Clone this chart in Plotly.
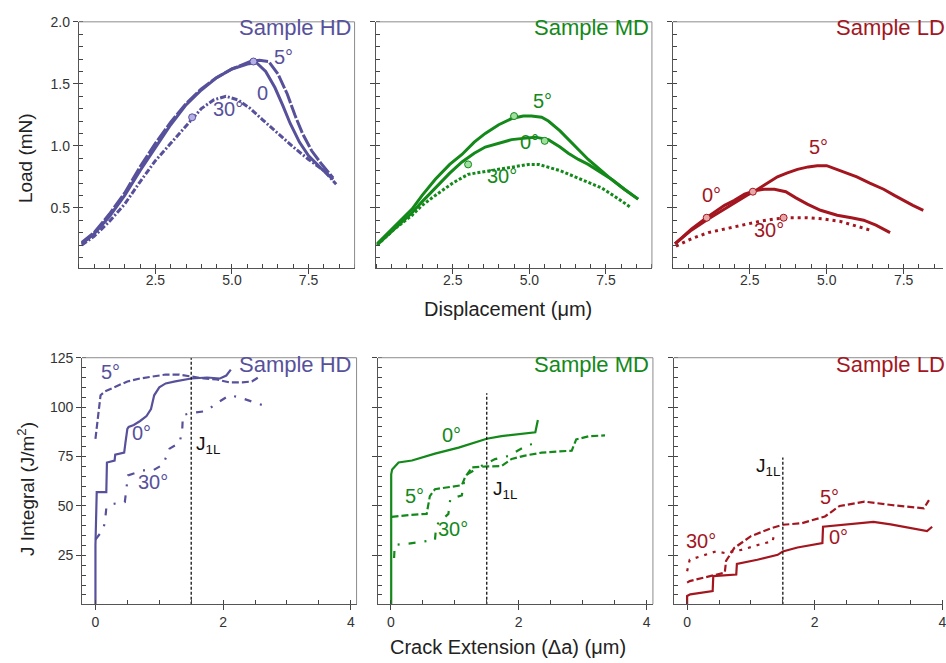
import plotly.graph_objects as go

# ---------------- DATA ----------------
# Load-displacement (top row)
hd0_x = [0.1, 0.5, 1.0, 1.5, 2.0, 2.5, 3.0, 3.5, 4.0, 4.5, 5.0, 5.5, 5.8, 6.1, 6.4, 6.65, 6.9, 7.2, 7.5, 7.9, 8.3]
hd0_y = [0.21, 0.29, 0.43, 0.60, 0.80, 0.99, 1.17, 1.33, 1.45, 1.55, 1.62, 1.66, 1.67, 1.60, 1.47, 1.33, 1.18, 1.03, 0.92, 0.82, 0.73]
hd5_x = [0.1, 0.5, 1.0, 1.5, 2.0, 2.5, 3.0, 3.5, 4.0, 4.5, 5.0, 5.6, 5.9, 6.2, 6.5, 6.8, 7.05, 7.3, 7.6, 7.9, 8.3]
hd5_y = [0.22, 0.30, 0.45, 0.62, 0.83, 1.02, 1.19, 1.34, 1.46, 1.55, 1.62, 1.68, 1.69, 1.68, 1.58, 1.42, 1.25, 1.10, 0.96, 0.86, 0.74]
hd30_x = [0.1, 0.5, 1.0, 1.5, 2.0, 2.5, 3.0, 3.5, 4.0, 4.4, 4.8, 5.2, 5.6, 6.0, 6.5, 7.0, 7.5, 8.0, 8.4]
hd30_y = [0.20, 0.27, 0.39, 0.53, 0.71, 0.88, 1.02, 1.16, 1.30, 1.37, 1.40, 1.37, 1.30, 1.21, 1.10, 0.99, 0.89, 0.80, 0.69]

md0_x = [0.03, 0.6, 1.17, 1.5, 1.93, 2.4, 2.8, 3.2, 3.56, 4.0, 4.42, 4.8, 5.19, 5.62, 6.0, 6.27, 6.6, 6.92, 7.3, 7.68, 8.1, 8.55]
md0_y = [0.20, 0.33, 0.46, 0.55, 0.66, 0.78, 0.87, 0.94, 0.99, 1.02, 1.05, 1.06, 1.07, 1.05, 0.99, 0.94, 0.89, 0.85, 0.79, 0.73, 0.65, 0.57]
md5_x = [0.03, 0.6, 1.17, 1.5, 1.93, 2.4, 2.8, 3.2, 3.56, 4.0, 4.42, 4.8, 5.07, 5.4, 5.62, 6.0, 6.27, 6.6, 6.92, 7.3, 7.68, 8.1, 8.55]
md5_y = [0.21, 0.35, 0.49, 0.60, 0.73, 0.85, 0.93, 1.03, 1.10, 1.17, 1.22, 1.24, 1.24, 1.23, 1.20, 1.12, 1.05, 0.97, 0.89, 0.81, 0.73, 0.65, 0.57]
md30_x = [0.03, 0.6, 1.17, 1.5, 1.93, 2.5, 3.0, 3.5, 4.1, 4.5, 4.97, 5.3, 5.62, 6.0, 6.49, 6.9, 7.36, 7.8, 8.33]
md30_y = [0.20, 0.33, 0.44, 0.52, 0.60, 0.70, 0.77, 0.79, 0.81, 0.83, 0.85, 0.85, 0.83, 0.80, 0.75, 0.71, 0.66, 0.59, 0.50]

ld5_x = [0.07, 0.6, 1.15, 1.6, 2.0, 2.4, 2.76, 3.1, 3.4, 3.7, 4.05, 4.4, 4.69, 5.0, 5.34, 5.7, 5.98, 6.4, 6.85, 7.2, 7.49, 7.8, 8.14]
ld5_y = [0.21, 0.32, 0.41, 0.48, 0.54, 0.60, 0.65, 0.70, 0.75, 0.78, 0.81, 0.83, 0.84, 0.84, 0.81, 0.78, 0.75, 0.70, 0.65, 0.60, 0.56, 0.52, 0.48]
ld0_x = [0.07, 0.61, 1.15, 1.68, 2.0, 2.33, 2.7, 2.97, 3.3, 3.67, 4.0, 4.37, 4.8, 5.34, 5.8, 6.2, 6.6, 7.06]
ld0_y = [0.21, 0.33, 0.43, 0.52, 0.56, 0.61, 0.64, 0.65, 0.65, 0.63, 0.58, 0.53, 0.48, 0.44, 0.42, 0.40, 0.36, 0.30]
ld30_x = [0.1, 0.6, 1.15, 1.7, 2.22, 2.8, 3.3, 3.8, 4.37, 4.9, 5.45, 5.9, 6.41]
ld30_y = [0.19, 0.25, 0.30, 0.33, 0.36, 0.39, 0.41, 0.42, 0.42, 0.41, 0.39, 0.36, 0.32]

# highlighted points (open circles) on the load curves
hd_pt_x = [5.7, 3.7]
hd_pt_y = [1.68, 1.23]
md_pt_x = [4.5, 5.5, 3.0]
md_pt_y = [1.24, 1.04, 0.85]
ld_pt_x = [1.1, 2.6, 3.6]
ld_pt_y = [0.42, 0.63, 0.42]

# J-integral vs crack extension (bottom row)
jhd0_x = [0.00, 0.00, 0.02, 0.17, 0.18, 0.30, 0.31, 0.45, 0.47, 0.50, 0.52, 0.60, 0.70, 0.80, 0.87, 0.92, 1.00, 1.10, 1.25, 1.50, 1.75, 1.95, 2.05, 2.12]
jhd0_y = [0.0, 30.0, 57.0, 57.0, 72.0, 73.0, 76.0, 77.0, 82.0, 89.0, 90.0, 91.0, 93.0, 95.5, 99.0, 106.0, 110.0, 112.0, 113.0, 114.5, 115.0, 114.5, 116.0, 119.0]
jhd5_x = [0.0, 0.02, 0.05, 0.08, 0.15, 0.3, 0.5, 0.7, 0.9, 1.1, 1.3, 1.5, 1.7, 1.9, 2.1, 2.3, 2.45, 2.55]
jhd5_y = [84.0, 90.0, 98.0, 106.0, 108.0, 110.0, 113.0, 114.5, 115.5, 116.5, 116.5, 115.5, 114.5, 114.0, 112.5, 112.5, 113.0, 115.0]
jhd30_x = [0.0, 0.12, 0.15, 0.17, 0.27, 0.46, 0.51, 0.74, 0.90, 1.06, 1.16, 1.32, 1.36, 1.37, 1.50, 1.73, 1.9, 2.1, 2.25, 2.62]
jhd30_y = [33.0, 38.0, 42.0, 49.0, 51.0, 52.0, 65.5, 68.0, 68.0, 71.0, 79.0, 82.0, 89.0, 96.0, 97.0, 98.0, 102.0, 106.0, 105.0, 101.0]

jmd0_x = [0.005, 0.005, 0.02, 0.12, 0.33, 0.69, 1.06, 1.30, 1.50, 1.73, 2.05, 2.26, 2.30]
jmd0_y = [0.0, 66.0, 68.5, 72.0, 73.0, 76.5, 79.5, 82.0, 84.0, 85.3, 86.7, 87.3, 93.5]
jmd5_x = [0.01, 0.3, 0.56, 0.61, 0.69, 1.11, 1.16, 1.21, 1.27, 1.50, 1.73, 1.89, 2.1, 2.36, 2.83, 2.90, 3.10, 3.35]
jmd5_y = [44.5, 45.5, 46.0, 55.0, 58.5, 60.5, 64.5, 67.0, 69.5, 70.0, 70.2, 73.8, 75.5, 77.0, 78.0, 83.7, 85.3, 85.7]
jmd30_x = [0.05, 0.06, 0.28, 0.69, 0.71, 0.90, 0.93, 1.11, 1.16, 1.40, 1.63, 1.84, 2.15, 2.33]
jmd30_y = [23.7, 30.3, 31.0, 32.8, 40.3, 46.0, 53.7, 55.3, 65.3, 70.0, 73.7, 75.3, 81.0, 81.7]

jld0_x = [0.0, 0.0, 0.05, 0.40, 0.41, 0.77, 0.78, 1.10, 1.42, 1.50, 1.73, 2.12, 2.13, 2.46, 2.92, 3.19, 3.50, 3.76, 3.84]
jld0_y = [0.0, 4.5, 5.3, 7.0, 14.5, 15.3, 20.7, 22.8, 25.3, 27.0, 29.0, 31.2, 39.5, 40.7, 42.0, 40.7, 38.7, 37.3, 39.5]
jld5_x = [0.0, 0.04, 0.59, 0.61, 0.74, 1.00, 1.32, 1.50, 1.80, 2.16, 2.39, 2.78, 3.20, 3.71, 3.79]
jld5_y = [11.2, 12.0, 16.3, 22.2, 28.8, 34.7, 38.8, 40.5, 41.3, 44.7, 50.0, 52.2, 50.5, 48.8, 53.0]
jld30_x = [0.0, 0.04, 0.45, 0.59, 0.85, 1.21, 1.34, 1.37]
jld30_y = [17.0, 22.8, 27.0, 26.2, 27.8, 31.2, 32.0, 37.0]

j1l_x = 1.5
j1l_top = [125.0, 107.0, 74.5]

load_ticks = [0.5, 1.0, 1.5, 2.0]
disp_ticks = [2.5, 5.0, 7.5]
j_ticks = [25, 50, 75, 100, 125]
crack_ticks = [0, 2, 4]

samples = ["Sample HD", "Sample MD", "Sample LD"]

# ---------------- STYLE ----------------
FONT = "Liberation Sans, Arial, sans-serif"
C_HD = "#57519b"
C_MD = "#13891a"
C_LD = "#a3161f"
L_HD = "#b6b0e6"
L_MD = "#9fe09f"
L_LD = "#e8a8a8"
W, H = 946, 663

def px(v):
    return v / W

def py(v):
    return 1 - v / H

top_dom_y = [py(263), py(14)]
bot_dom_y = [py(603.5), py(354)]
top_dom_x = [[px(79), px(355.7)], [px(377.4), px(654)], [px(675), 1.0]]
bot_dom_x = [[px(82.3), px(357.7)], [px(379.3), px(655)], [px(676), 1.0]]
top_rng_x = [[0, 9], [0, 9], [0, 8.78]]
bot_rng_x = [[-0.21, 4.09], [-0.2, 4.1], [-0.208, 4.01]]

fig = go.Figure()

def add_line(x, y, ax, color, dash="solid", width=3):
    fig.add_trace(go.Scatter(x=x, y=y, mode="lines", xaxis="x" + ax, yaxis="y" + ax,
                             line=dict(color=color, width=width, dash=dash),
                             showlegend=False, hoverinfo="skip"))

def add_pts(x, y, ax, color, fill):
    fig.add_trace(go.Scatter(x=x, y=y, mode="markers", xaxis="x" + ax, yaxis="y" + ax,
                             marker=dict(size=7, color=fill, line=dict(color=color, width=1)),
                             showlegend=False, hoverinfo="skip"))

# top row
add_line(hd0_x, hd0_y, "", C_HD)
add_line(hd5_x, hd5_y, "", C_HD, dash="14px,2px")
add_line(hd30_x, hd30_y, "", C_HD, dash="6px,2px,2px,2px")
add_pts(hd_pt_x, hd_pt_y, "", C_HD, L_HD)

add_line(md0_x, md0_y, "2", C_MD)
add_line(md5_x, md5_y, "2", C_MD)
add_line(md30_x, md30_y, "2", C_MD, dash="3px,2px")
add_pts(md_pt_x, md_pt_y, "2", C_MD, L_MD)

add_line(ld5_x, ld5_y, "3", C_LD)
add_line(ld0_x, ld0_y, "3", C_LD)
add_line(ld30_x, ld30_y, "3", C_LD, dash="3px,4px")
add_pts(ld_pt_x, ld_pt_y, "3", C_LD, L_LD)

# bottom row
add_line(jhd0_x, jhd0_y, "4", C_HD, width=2.2)
add_line(jhd5_x, jhd5_y, "4", C_HD, dash="7px,3px", width=2.2)
add_line(jhd30_x, jhd30_y, "4", C_HD, dash="7px,9px,2px,9px", width=2.2)

add_line(jmd0_x, jmd0_y, "5", C_MD, width=2.2)
add_line(jmd5_x, jmd5_y, "5", C_MD, dash="7px,3px", width=2.2)
add_line(jmd30_x, jmd30_y, "5", C_MD, dash="7px,9px,2px,9px", width=2.2)

add_line(jld0_x, jld0_y, "6", C_LD, width=2.2)
add_line(jld5_x, jld5_y, "6", C_LD, dash="7px,3px", width=2.2)
add_line(jld30_x, jld30_y, "6", C_LD, dash="3px,6px", width=2.2)

# J1L lines
for i, ax in enumerate(["4", "5", "6"]):
    fig.add_trace(go.Scatter(x=[j1l_x, j1l_x], y=[0, j1l_top[i]], mode="lines",
                             xaxis="x" + ax, yaxis="y" + ax,
                             line=dict(color="#111111", width=1.3, dash="3px,2px"),
                             showlegend=False, hoverinfo="skip"))

axis_common = dict(showgrid=False, zeroline=False, showline=True, linecolor="#555555",
                   linewidth=1, ticks="outside", ticklen=5, tickcolor="#444444",
                   ticklabeloverflow="allow",
                   tickfont=dict(family=FONT, size=14, color="#333333"))

layout = dict(width=W, height=H, margin=dict(l=0, r=0, t=0, b=0),
              paper_bgcolor="white", plot_bgcolor="rgba(0,0,0,0)",
              font=dict(family=FONT), showlegend=False)

names = ["", "2", "3", "4", "5", "6"]
for i, n in enumerate(names):
    top = i < 3
    k = i % 3
    xa = dict(axis_common)
    ya = dict(axis_common)
    if top:
        xa.update(domain=top_dom_x[k], range=top_rng_x[k], tickvals=disp_ticks,
                  ticktext=["%.1f" % v for v in disp_ticks], ticklabelstandoff=-6,
                  minor=dict(dtick=0.5, tick0=0, ticks="inside", ticklen=4, tickcolor="#444444"))
        ya.update(domain=top_dom_y, range=[0.016, 2.0], tickvals=load_ticks,
                  ticktext=["%.1f" % v for v in load_ticks],
                  minor=dict(dtick=0.1, tick0=0, ticks="inside", ticklen=4, tickcolor="#444444"))
    else:
        xa.update(domain=bot_dom_x[k], range=bot_rng_x[k], tickvals=crack_ticks,
                  ticktext=[str(v) for v in crack_ticks],
                  minor=dict(dtick=0.5, tick0=0, ticks="inside", ticklen=4, tickcolor="#444444"))
        ya.update(domain=bot_dom_y, range=[0.3, 125], tickvals=j_ticks,
                  ticktext=[str(v) for v in j_ticks],
                  minor=dict(dtick=5, tick0=0, ticks="inside", ticklen=4, tickcolor="#444444"))
    ya["showticklabels"] = (k == 0)
    xa["anchor"] = "y" + n
    ya["anchor"] = "x" + n
    layout["xaxis" + n] = xa
    layout["yaxis" + n] = ya

fig.update_layout(**layout)

# frame (top and right borders)
shapes = []
for doms_x, dom_y in [(top_dom_x, top_dom_y), (bot_dom_x, bot_dom_y)]:
    for k in range(3):
        x0, x1 = doms_x[k]
        shapes.append(dict(type="line", xref="paper", yref="paper", x0=x0, x1=x1,
                           y0=dom_y[1], y1=dom_y[1], line=dict(color="#8c8c8c", width=1)))
        if k < 2:
            shapes.append(dict(type="line", xref="paper", yref="paper", x0=x1, x1=x1,
                               y0=dom_y[0], y1=dom_y[1], line=dict(color="#8c8c8c", width=1)))
fig.update_layout(shapes=shapes)

ann = []
def label(text, x, y, ax, color, size=20):
    ann.append(dict(text=text, x=x, y=y, xref="x" + ax, yref="y" + ax, showarrow=False,
                    xanchor="center", yanchor="middle",
                    font=dict(family=FONT, size=size, color=color)))

# top labels
label("5°", 6.68, 1.72, "", C_HD)
label("0", 5.98, 1.43, "", C_HD)
label("30°", 4.88, 1.30, "", C_HD)
label("5°", 5.42, 1.36, "2", C_MD)
label("0°", 5.0, 1.03, "2", C_MD)
label("30°", 4.12, 0.76, "2", C_MD)
label("5°", 4.72, 0.99, "3", C_LD)
label("0°", 1.24, 0.60, "3", C_LD)
label("30°", 3.14, 0.32, "3", C_LD)
# bottom labels
label("5°", 0.24, 118, "4", C_HD)
label("0°", 0.72, 87, "4", C_HD)
label("30°", 0.9, 62, "4", C_HD)
label("0°", 0.95, 86, "5", C_MD)
label("5°", 0.37, 55, "5", C_MD)
label("30°", 0.97, 38.5, "5", C_MD)
label("5°", 2.23, 54.5, "6", C_LD)
label("0°", 2.38, 34.5, "6", C_LD)
label("30°", 0.22, 32.5, "6", C_LD)
label("J<sub>1L</sub>", 1.76, 81, "4", "#111111", size=19)
label("J<sub>1L</sub>", 1.79, 58, "5", "#111111", size=19)
label("J<sub>1L</sub>", 1.27, 69.5, "6", "#111111", size=19)

# sample titles
sample_left = [238, 534, 837]
sample_col = [C_HD, C_MD, C_LD]
for k in range(3):
    for yy in [20, 361]:
        ann.append(dict(text=samples[k], x=px(sample_left[k]), y=py(yy), xref="paper", yref="paper",
                        showarrow=False, xanchor="left", yanchor="middle",
                        font=dict(family=FONT, size=22, color=sample_col[k])))

# axis titles
ann.append(dict(text="Load (mN)", x=px(25), y=py(152), xref="paper", yref="paper", showarrow=False,
                textangle=-90, xanchor="center", yanchor="middle",
                font=dict(family=FONT, size=19, color="#222222")))
ann.append(dict(text="J Integral (J/m<sup>2</sup>)", x=px(26), y=py(487), xref="paper", yref="paper",
                showarrow=False, textangle=-90, xanchor="center", yanchor="middle",
                font=dict(family=FONT, size=19, color="#222222")))
ann.append(dict(text="Displacement (μm)", x=px(510), y=py(305), xref="paper", yref="paper",
                showarrow=False, xanchor="center", yanchor="middle",
                font=dict(family=FONT, size=20, color="#222222")))
ann.append(dict(text="Crack Extension (Δa) (μm)", x=px(510), y=py(647), xref="paper", yref="paper",
                showarrow=False, xanchor="center", yanchor="middle",
                font=dict(family=FONT, size=20, color="#222222")))

fig.update_layout(annotations=ann)
fig.write_html("out.html")
